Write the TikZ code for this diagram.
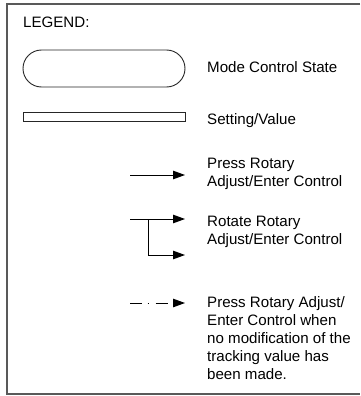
\documentclass[tikz,border=0pt]{standalone}
\usepackage{fontspec}
\setmainfont{Liberation Sans}
\usetikzlibrary{arrows.meta}

\begin{document}
\begin{tikzpicture}[x=1pt, y=-1pt,
    legtext/.style={anchor=west, align=left, inner sep=0pt,
        font=\fontsize{15.1}{18}\selectfont},
    legarrow/.style={-{Triangle[length=12pt, width=8.5pt]}, line width=1pt}]
    % Page and frame
    \useasboundingbox (0,0) rectangle (360,396);
    \draw[line width=1.6pt, black!65] (360,4) -- (7,4) -- (7,394) -- (360,394);

    % Title
    \node[legtext, anchor=base west] (title) at (23,28) {LEGEND:};

    % Shapes
    \node[draw, line width=0.9pt, black!85, minimum width=162pt, minimum height=37pt,
        rounded corners=18.5pt, inner sep=0pt] (state) at (104,68.5) {};
    \node[legtext, anchor=base west] (statetext) at (207,73) {Mode Control State};

    \node[draw, line width=0.9pt, black!85, minimum width=162pt, minimum height=9pt,
        inner sep=0pt] (setting) at (104,116.5) {};
    \node[legtext, anchor=base west] (settingtext) at (207,124) {Setting/Value};

    % Points for the arrows
    \coordinate (pressA) at (130,175);
    \coordinate (pressB) at (185,175);
    \coordinate (rotA) at (130,219);
    \coordinate (rotB) at (185,219);
    \coordinate (rotJ) at (148,219);
    \coordinate (rotC) at (185,255);
    \coordinate (noneA) at (130,303);
    \coordinate (noneB) at (185,303);

    % Press
    \draw[legarrow] (pressA) -- (pressB);
    \node[legtext] (presstext) at (207,174) {Press Rotary\\Adjust/Enter Control};

    % Rotate
    \draw[legarrow] (rotA) -- (rotB);
    \draw[legarrow] (rotJ) |- (rotC);
    \node[legtext] (rottext) at (207,231.5) {Rotate Rotary\\Adjust/Enter Control};

    % Press, no modification
    \draw[legarrow, dash pattern=on 12pt off 5.5pt on 1.5pt off 6.5pt on 12pt off 10pt]
        (noneA) -- (noneB);
    \node[legtext] (nonetext) at (207,338.5) {Press Rotary Adjust/\\Enter Control when\\no modification of the\\tracking value has\\been made.};
\end{tikzpicture}
\end{document}
